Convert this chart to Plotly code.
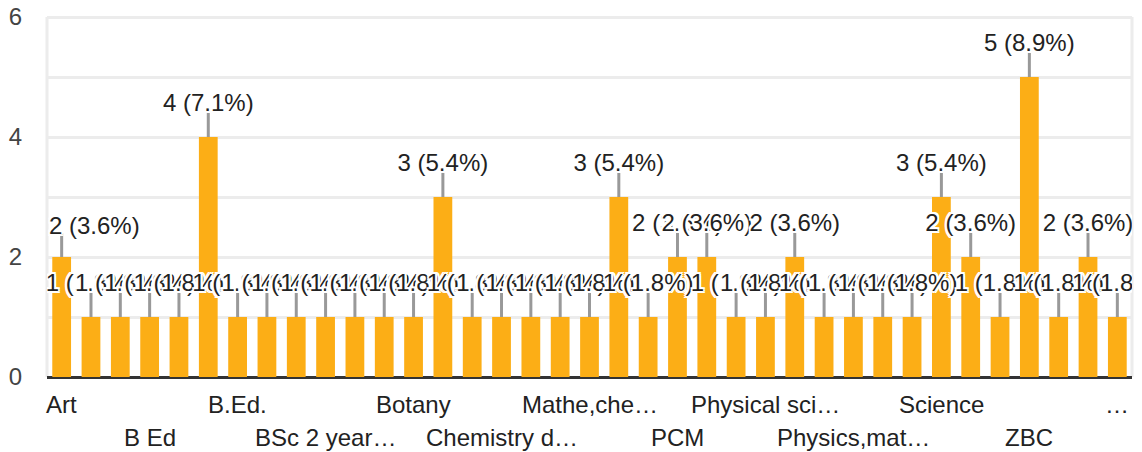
import plotly.graph_objects as go

# ---- data ----
categories = [
    "Art", "Arts", "B.A", "B Ed", "B Sc", "B.Ed", "B.Ed.", "B.Sc", "BA",
    "BSc 2 year B.Ed", "BSc B.Ed", "Biology", "Botany", "Chemistry",
    "Chemistry and Botany", "Chemistry degree", "Commerce", "English",
    "Mathe,chemistry,physics", "Mathematics", "Maths", "PCM", "PCMB",
    "Physical Science", "Physical science", "Physics", "Physics and Maths",
    "Physics,maths,chemistry", "Physics,zoology", "Sanskrit", "Science",
    "Social Science", "Tamil", "ZBC", "Zoology", "Zoology botany",
    "Zoology,Botany,Chemistry,Biotechnology",
]
counts = [2, 1, 1, 1, 1, 4, 1, 1, 1, 1, 1, 1, 1, 3, 1, 1, 1, 1, 1, 3, 1,
          2, 2, 1, 1, 2, 1, 1, 1, 1, 3, 2, 1, 5, 1, 2, 1]
total = sum(counts)
bar_labels = [f"{c} ({c / total * 100:.1f}%)" for c in counts]

# displayed tick labels (every third category, two staggered rows)
tick_positions = categories[::3]
tick_labels = ["Art", "B Ed", "B.Ed.", "BSc 2 year…", "Botany", "Chemistry d…",
               "Mathe,che…", "PCM", "Physical sci…", "Physics,mat…", "Science",
               "ZBC", "…"]

y_ticks = [0, 1, 2, 3, 4, 5, 6]
y_tick_text = ["0", "", "2", "", "4", "", "6"]
y_max = 6

BAR = "#fcae16"
FONT = "Liberation Sans, Arial, sans-serif"
FS = 24
GRID = "#ececec"

fig = go.Figure()
fig.add_trace(go.Bar(x=categories, y=counts, marker=dict(color=BAR, line=dict(width=0)),
                     hoverinfo="skip"))

# stems
sx, sy = [], []
for c, v in zip(categories, counts):
    sx += [c, c, None]
    sy += [v, v + 0.4, None]
fig.add_trace(go.Scatter(x=sx, y=sy, mode="lines", line=dict(color="#999999", width=3),
                         hoverinfo="skip"))

halo = ("2px 0 0 white, -2px 0 0 white, 0 2px 0 white, 0 -2px 0 white, "
        "2px 2px 0 white, -2px -2px 0 white, 2px -2px 0 white, -2px 2px 0 white")
label_font = dict(family=FONT, size=FS, color="#222222", shadow=halo)

# first label is pushed inside the plot area (as in the original); the rest are centred
fig.add_trace(go.Scatter(x=categories[1:], y=[v + 0.53 for v in counts[1:]], mode="text",
                         text=bar_labels[1:], textposition="middle center",
                         textfont=label_font, hoverinfo="skip", cliponaxis=True))
fig.add_annotation(x=categories[0], xref="x", y=counts[0] + 0.53, yref="y",
                   xanchor="left", yanchor="middle", xshift=-15, text=bar_labels[0],
                   showarrow=False, font=label_font)

for i, (pos, lab) in enumerate(zip(tick_positions, tick_labels)):
    fig.add_annotation(x=pos, xref="x", y=0, yref="paper", yanchor="middle",
                       yshift=-27 if i % 2 == 0 else -60, text=lab, showarrow=False,
                       font=dict(family=FONT, size=FS, color="#222222"))

# light side borders of the chart area
for xp in (0, 1):
    fig.add_shape(type="line", xref="paper", yref="y", x0=xp, x1=xp, y0=0, y1=y_max,
                  line=dict(color=GRID, width=3), layer="below")

fig.update_layout(
    width=1142, height=452,
    margin=dict(l=47, r=10, t=14, b=75, autoexpand=False),
    plot_bgcolor="white", paper_bgcolor="white",
    showlegend=False, bargap=0.36,
    font=dict(family=FONT, size=FS, color="#444444"),
    xaxis=dict(type="category", range=[-0.5, 36.5], showticklabels=False,
               showgrid=False, zeroline=False, fixedrange=True, automargin=False),
    yaxis=dict(range=[0, y_max + 0.05], tickvals=y_ticks, ticktext=y_tick_text,
               showgrid=True, gridcolor=GRID, gridwidth=3,
               zeroline=True, zerolinecolor="#333333", zerolinewidth=3,
               ticks="", ticklabelstandoff=24, automargin=False, fixedrange=True,
               tickfont=dict(family=FONT, size=FS, color="#444444")),
)

fig.write_html("out.html", config={"displayModeBar": False},
               post_script="document.body.style.margin='0';"
                           "document.body.style.overflow='hidden';")
